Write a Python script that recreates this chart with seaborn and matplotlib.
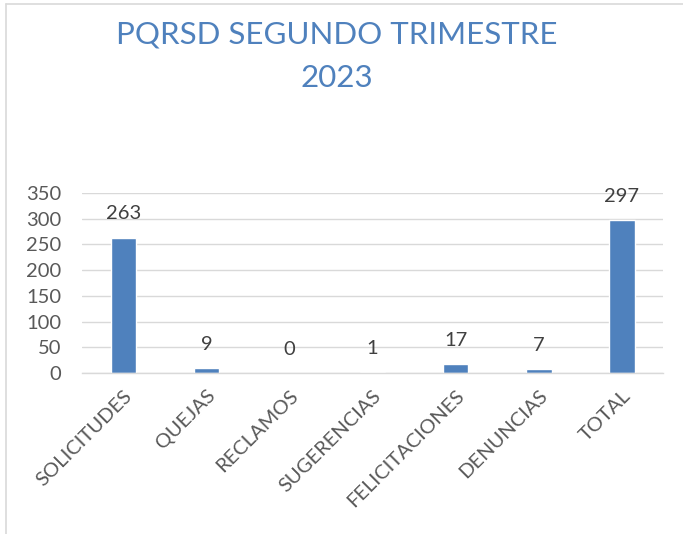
import matplotlib
matplotlib.use("Agg")
import matplotlib.pyplot as plt
import seaborn as sns
import pandas as pd
from matplotlib.lines import Line2D

categories = ["SOLICITUDES", "QUEJAS", "RECLAMOS", "SUGERENCIAS", "FELICITACIONES", "DENUNCIAS", "TOTAL"]
values = [263, 9, 0, 1, 17, 7, 297]
yticks = [0, 50, 100, 150, 200, 250, 300, 350]
title = "PQRSD SEGUNDO TRIMESTRE\n2023"

sns.set_theme(style="white")
plt.rcParams['font.family'] = ['Lato', 'DejaVu Sans']

df = pd.DataFrame({"cat": categories, "val": values})

fig = plt.figure(figsize=(6.83, 5.34), dpi=100)
ax = fig.add_axes([0.12, 0.3015, 0.851, 0.3371])

sns.barplot(data=df, x="cat", y="val", color="#4f81bd", width=0.31, ax=ax, saturation=1)

ax.set_ylim(0, 350)
ax.set_yticks(yticks)
ax.set_yticklabels([str(t) for t in yticks], fontsize=14.5, color="#595959")
ax.yaxis.grid(True, color="#d9d9d9", linewidth=1)
ax.set_axisbelow(True)
for s in ["top", "right", "left"]:
    ax.spines[s].set_visible(False)
ax.spines["bottom"].set_color("#d9d9d9")
ax.spines["bottom"].set_linewidth(1)
ax.tick_params(axis="y", length=0, pad=15)
ax.tick_params(axis="x", length=0, pad=10)
ax.set_xlabel("")
ax.set_ylabel("")
ax.set_xticks(range(len(categories)))
ax.set_xticklabels(categories, rotation=45, ha="right", rotation_mode="anchor",
                   fontsize=14.5, color="#595959")

for i, v in enumerate(values):
    ax.annotate(str(v), (i, v), xytext=(0, 11), textcoords="offset points",
                ha="center", va="bottom", fontsize=14.5, color="#404040")

fig.text(0.493, 0.962, title, ha="center", va="top", fontsize=22.5, color="#4f81bd",
         linespacing=1.68)

fig.add_artist(Line2D([0.009, 0.009], [0, 0.993], transform=fig.transFigure, color="#d9d9d9", lw=1.2))
fig.add_artist(Line2D([0.009, 1], [0.993, 0.993], transform=fig.transFigure, color="#d9d9d9", lw=1.2))

fig.savefig("out.png", dpi=100)
